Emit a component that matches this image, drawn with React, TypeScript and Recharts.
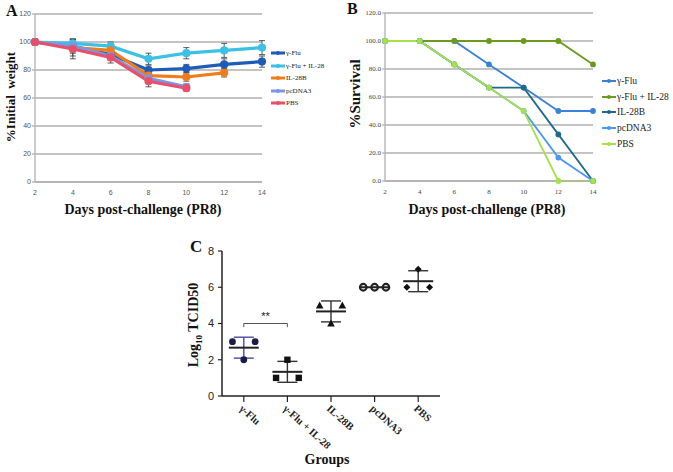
import React from "react";
import {
  CartesianGrid, ErrorBar, Line, LineChart, ReferenceLine, Scatter, ScatterChart,
  XAxis, YAxis
} from "recharts";

const DAYS = ["2", "4", "6", "8", "10", "12", "14"];
const NAMES = ["γ-Flu", "γ-Flu + IL-28", "IL-28B", "pcDNA3", "PBS"];

// A: % initial weight
const weightGFlu = [100, 97, 91, 80, 81, 84, 86];
const weightGFluIL28 = [100, 99, 97, 88, 92, 94, 96];
const weightIL28B = [100, 96, 94, 76, 75, 78, null];
const weightPcDNA3 = [100, 97, 90, 74, 68, null, null];
const weightPBS = [100, 95, 89, 72, 67, null, null];
const errGFlu = [2, 4, 3, 3, 3, 4, 4];
const errGFluIL28 = [2, 3, 3, 4, 4, 5, 5];
const errIL28B = [2, 6, 3, 4, 3, 3, null];
const errPcDNA3 = [2, 5, 3, 3, 2, null, null];
const errPBS = [2, 7, 4, 4, 2, null, null];

// B: % survival
const survGFlu = [100, 100, 100, 83.3, 66.7, 50, 50];
const survGFluIL28 = [100, 100, 100, 100, 100, 100, 83.3];
const survIL28B = [100, 100, 83.3, 66.7, 66.7, 33.3, 0];
const survPcDNA3 = [100, 100, 83.3, 66.7, 50, 16.7, 0];
const survPBS = [100, 100, 83.3, 66.7, 50, 0, 0];

// C: log10 TCID50 per mouse
const titerGFlu = [3, 2, 3];
const titerGFluIL28 = [1, 2, 1];
const titerIL28B = [5, 4, 5];
const titerPcDNA3 = [6, 6, 6];
const titerPBS = [6, 7, 6];
const JITTER = [-0.26, 0, 0.26];

const weightColors = ["#1f5cb8", "#3cc0e6", "#f07d1a", "#7b96e8", "#e8506a"];
const survColors = ["#3a82d8", "#6b9a1e", "#1f6a8a", "#4a98f0", "#a6e04a"];

const weightData = DAYS.map((d, i) => ({
  day: d,
  s0: weightGFlu[i], e0: errGFlu[i],
  s1: weightGFluIL28[i], e1: errGFluIL28[i],
  s2: weightIL28B[i], e2: errIL28B[i],
  s3: weightPcDNA3[i], e3: errPcDNA3[i],
  s4: weightPBS[i], e4: errPBS[i],
}));

const survData = DAYS.map((d, i) => ({
  day: d,
  s0: survGFlu[i], s1: survGFluIL28[i], s2: survIL28B[i], s3: survPcDNA3[i], s4: survPBS[i],
}));

const groups = [titerGFlu, titerGFluIL28, titerIL28B, titerPcDNA3, titerPBS];
const pointsFor = (vals: number[], g: number) => vals.map((v, i) => ({ x: g + 1 + JITTER[i], y: v }));
const meanSd = (vals: number[], g: number) => {
  const m = vals.reduce((a, b) => a + b, 0) / vals.length;
  const sd = Math.sqrt(vals.reduce((a, b) => a + (b - m) * (b - m), 0) / (vals.length - 1));
  return [{ x: g + 1, y: m, sd }];
};

const serif = "'Liberation Serif', 'DejaVu Serif', serif";
const sans = "'Liberation Sans', Arial, sans-serif";

// point shapes for panel C
const Dot = (p: any) => <circle cx={p.cx} cy={p.cy} r={3.4} fill="#1c1c48" />;
const Sq = (p: any) => <rect x={p.cx - 3.2} y={p.cy - 3.2} width={6.4} height={6.4} fill="#111" />;
const Tri = (p: any) => (
  <path d={`M${p.cx},${p.cy - 4} L${p.cx + 3.8},${p.cy + 3} L${p.cx - 3.8},${p.cy + 3} Z`} fill="#111" />
);
const Ring = (p: any) => <circle cx={p.cx} cy={p.cy} r={3.3} fill="#fff" stroke="#222" strokeWidth={2.2} />;
const Dia = (p: any) => (
  <path d={`M${p.cx},${p.cy - 3.5} L${p.cx + 3.5},${p.cy} L${p.cx},${p.cy + 3.5} L${p.cx - 3.5},${p.cy} Z`} fill="#111" />
);
const SHAPES = [Dot, Sq, Tri, Ring, Dia];

const LegendBox = (props: { left: number; top: number; colors: string[]; rowHeight: number; fontSize: number; lineWidth: number }) => (
  <div style={{ position: "absolute", left: props.left, top: props.top, fontFamily: serif, fontSize: props.fontSize, color: "#222" }}>
    {NAMES.map((n, k) => (
      <div key={n} style={{ height: props.rowHeight, display: "flex", alignItems: "center", whiteSpace: "nowrap" }}>
        <svg width={14} height={8} style={{ marginRight: 1 }}>
          <line x1={0} x2={14} y1={4} y2={4} stroke={props.colors[k]} strokeWidth={props.lineWidth} />
          <circle cx={7} cy={4} r={2} fill={props.colors[k]} />
        </svg>
        <span>{n}</span>
      </div>
    ))}
  </div>
);

const abs = (left: number, top: number, extra: React.CSSProperties = {}): React.CSSProperties => ({
  position: "absolute", left, top, ...extra,
});

// rotated y-axis title, centred on (cx, cy)
const VTitle = (props: { cx: number; cy: number; size: number; children: React.ReactNode }) => (
  <div style={{
    position: "absolute", left: props.cx - 100, top: props.cy - 10, width: 200, height: 20, lineHeight: "20px",
    textAlign: "center", transform: "rotate(-90deg)", fontFamily: serif, fontWeight: "bold", fontSize: props.size,
    color: "#111", whiteSpace: "nowrap",
  }}>{props.children}</div>
);

const App: React.FC = () => {
  const titleStyle: React.CSSProperties = { fontFamily: serif, fontWeight: "bold", color: "#111", whiteSpace: "nowrap" };
  const grayAxis = { stroke: "#b0b0b0", strokeWidth: 1.3 };
  return (
    <div style={{ position: "absolute", left: 0, top: 0, width: 673, height: 472, background: "#fff", overflow: "hidden" }}>
      {/* Panel A */}
      <div style={abs(0, 0)}>
        <LineChart width={340} height={225} data={weightData} margin={{ top: 14, right: 78, bottom: 13, left: 15 }}>
          <CartesianGrid vertical={false} stroke="#b0b0b0" strokeWidth={1.3} />
          <XAxis dataKey="day" axisLine={grayAxis} tickLine={false} height={30}
            tick={{ fontSize: 7, fill: "#555", fontFamily: sans }} interval={0} />
          <YAxis domain={[0, 120]} ticks={[0, 20, 40, 60, 80, 100, 120]} axisLine={grayAxis} tickLine={grayAxis} width={20}
            tickSize={3} tickMargin={1} tick={{ fontSize: 7, fill: "#555", fontFamily: sans }} />
          {[0, 1, 2, 3, 4].map((k) => (
            <Line key={k} type="linear" dataKey={`s${k}`} name={NAMES[k]} stroke={weightColors[k]} strokeWidth={3.2}
              dot={{ r: 2.5, fill: weightColors[k], stroke: weightColors[k] }} isAnimationActive={false}>
              <ErrorBar dataKey={`e${k}`} width={3} strokeWidth={0.8} stroke="#333" direction="y" />
            </Line>
          ))}
        </LineChart>
        <LegendBox left={271} top={47} colors={weightColors} rowHeight={12.5} fontSize={7} lineWidth={3} />
        <div style={abs(6, 2, { ...titleStyle, fontSize: 16 })}>A</div>
        <VTitle cx={11} cy={97} size={13}>%Initial&nbsp;&nbsp;weight</VTitle>
        <div style={abs(43, 202, { ...titleStyle, fontSize: 14, width: 200, textAlign: "center" })}>Days post-challenge (PR8)</div>
      </div>

      {/* Panel B */}
      <div style={abs(330, 0)}>
        <LineChart width={343} height={225} data={survData} margin={{ top: 13, right: 80, bottom: 14, left: 25 }}>
          <CartesianGrid vertical={false} stroke="#b0b0b0" strokeWidth={1.3} />
          <XAxis dataKey="day" axisLine={grayAxis} tickLine={false} height={30}
            tick={{ fontSize: 7, fill: "#444", fontFamily: serif }} interval={0} />
          <YAxis domain={[0, 120]} ticks={[0, 20, 40, 60, 80, 100, 120]} axisLine={grayAxis} tickLine={grayAxis} width={30}
            tickSize={3} tickMargin={1} tickFormatter={(v: number) => v.toFixed(1)} tick={{ fontSize: 7, fill: "#444", fontFamily: serif }} />
          {[0, 1, 2, 3, 4].map((k) => (
            <Line key={k} type="linear" dataKey={`s${k}`} name={NAMES[k]} stroke={survColors[k]} strokeWidth={1.8}
              dot={{ r: 2, fill: survColors[k], stroke: survColors[k] }} isAnimationActive={false} />
          ))}
        </LineChart>
        <LegendBox left={272} top={73} colors={survColors} rowHeight={15.8} fontSize={9.5} lineWidth={2} />
        <div style={abs(17, 0, { ...titleStyle, fontSize: 16 })}>B</div>
        <VTitle cx={25} cy={94} size={15}>%Survival</VTitle>
        <div style={abs(57, 202, { ...titleStyle, fontSize: 14, width: 200, textAlign: "center" })}>Days post-challenge (PR8)</div>
      </div>

      {/* Panel C */}
      <div style={abs(180, 230)}>
        <ScatterChart width={300} height={242} margin={{ top: 21, right: 40, bottom: 16, left: 12 }}>
          <XAxis type="number" dataKey="x" domain={[0.5, 5.5]} ticks={[1, 2, 3, 4, 5]} interval={0}
            tickFormatter={(v: number) => NAMES[v - 1] ?? ""} height={60} tickSize={6}
            axisLine={{ stroke: "#222", strokeWidth: 1.5 }} tickLine={{ stroke: "#222", strokeWidth: 1.2 }}
            tick={{ angle: 42, textAnchor: "start", fontSize: 10.5, fontWeight: "bold", fill: "#222", fontFamily: serif }} />
          <YAxis type="number" dataKey="y" domain={[0, 8]} ticks={[0, 2, 4, 6, 8]} width={30} tickSize={4} tickMargin={4}
            axisLine={{ stroke: "#222", strokeWidth: 1.5 }} tickLine={{ stroke: "#222", strokeWidth: 1.2 }}
            tick={{ fontSize: 11, fill: "#222", fontFamily: sans }} />
          {groups.map((vals, g) => (
            <Scatter key={`p${g}`} name={NAMES[g]} data={pointsFor(vals, g)} shape={SHAPES[g]} isAnimationActive={false} />
          ))}
          {groups.map((vals, g) => (
            <Scatter key={`m${g}`} data={meanSd(vals, g)} isAnimationActive={false}
              shape={(p: any) => <line x1={p.cx - 15} x2={p.cx + 15} y1={p.cy} y2={p.cy} stroke="#222" strokeWidth={2} />}>
              <ErrorBar dataKey="sd" direction="y" width={10} strokeWidth={1.4} stroke={g === 0 ? "#4a4aa0" : "#333"} />
            </Scatter>
          ))}
          <ReferenceLine segment={[{ x: 1, y: 4 }, { x: 2, y: 4 }]} stroke="#555" strokeWidth={1}
            label={{ value: "**", position: "top", fontSize: 11, fill: "#222", fontFamily: sans, offset: 4 }} />
          <ReferenceLine segment={[{ x: 1, y: 4 }, { x: 1, y: 3.8 }]} stroke="#555" strokeWidth={1} />
          <ReferenceLine segment={[{ x: 2, y: 4 }, { x: 2, y: 3.8 }]} stroke="#555" strokeWidth={1} />
        </ScatterChart>
        <div style={abs(10, 7, { ...titleStyle, fontSize: 17 })}>C</div>
        <VTitle cx={14} cy={95} size={14}>Log<sub style={{ fontSize: 9 }}>10</sub> TCID50</VTitle>
        <div style={abs(97, 222, { ...titleStyle, fontSize: 14, width: 100, textAlign: "center" })}>Groups</div>
      </div>
    </div>
  );
};

export default App;
